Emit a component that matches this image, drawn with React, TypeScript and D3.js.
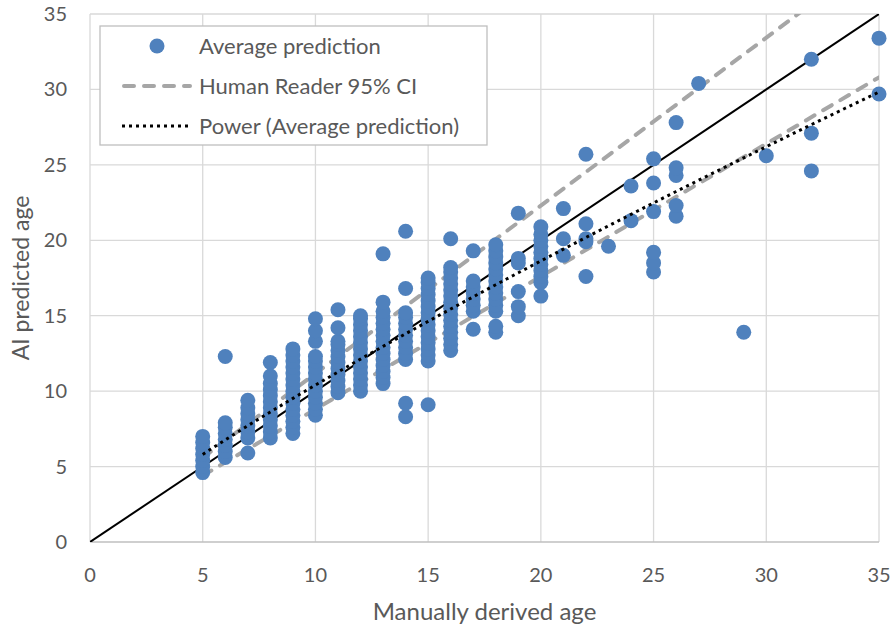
import React from "react";
import * as d3 from "d3";

// manually derived age (x) and the AI predictions at each age (y)
const ages = [5, 6, 7, 8, 9, 10, 11, 12, 13, 14, 15, 16, 17, 18, 19, 20, 21, 22, 23, 24, 25, 26, 27, 29, 30, 32, 35];
const predictions: number[][] = [
  [4.6, 5.0, 5.4, 5.8, 6.2, 6.6, 7.0],
  [5.6, 6.0, 6.4, 6.8, 7.2, 7.6, 7.9, 12.3],
  [5.9, 6.9, 7.3, 7.7, 8.1, 8.5, 8.9, 9.4],
  [6.9, 7.3, 7.7, 8.1, 8.5, 8.9, 9.3, 9.7, 10.1, 10.5, 11.0, 11.9],
  [7.2, 7.6, 8.0, 8.4, 8.8, 9.2, 9.6, 10.0, 10.4, 10.8, 11.2, 11.6, 12.0, 12.4, 12.8],
  [8.4, 8.8, 9.2, 9.6, 10.0, 10.4, 10.8, 11.2, 11.6, 12.0, 12.3, 13.3, 14.0, 14.8],
  [9.9, 10.3, 10.7, 11.1, 11.5, 11.9, 12.3, 12.7, 13.1, 13.3, 14.2, 15.4],
  [10.0, 10.4, 10.8, 11.2, 11.6, 12.0, 12.4, 12.8, 13.2, 13.6, 14.0, 14.4, 14.8, 15.0],
  [10.5, 10.9, 11.3, 11.7, 12.1, 12.5, 12.9, 13.3, 13.7, 14.1, 14.5, 14.9, 15.3, 15.9, 19.1],
  [8.3, 9.2, 12.1, 12.5, 12.9, 13.3, 13.7, 14.1, 14.5, 14.9, 15.2, 16.8, 20.6],
  [9.1, 12.0, 12.4, 12.8, 13.2, 13.6, 14.0, 14.4, 14.8, 15.2, 15.6, 16.0, 16.4, 16.8, 17.2, 17.5],
  [12.7, 13.1, 13.5, 13.9, 14.3, 14.7, 15.1, 15.5, 15.9, 16.3, 16.7, 17.1, 17.5, 17.9, 18.2, 20.1],
  [14.1, 15.3, 15.7, 16.1, 16.5, 16.9, 17.3, 19.3],
  [13.9, 14.3, 15.3, 15.7, 16.1, 16.5, 16.9, 17.3, 17.7, 18.1, 18.5, 18.9, 19.3, 19.7],
  [15.0, 15.6, 16.6, 18.5, 18.8, 21.8],
  [16.3, 17.2, 17.6, 18.0, 18.4, 18.8, 19.2, 19.6, 20.0, 20.4, 20.9],
  [19.0, 20.1, 22.1],
  [17.6, 19.9, 20.1, 21.1, 25.7],
  [19.6],
  [21.3, 23.6],
  [17.9, 18.5, 19.2, 21.9, 23.8, 25.4],
  [21.6, 22.3, 24.3, 24.8, 27.8],
  [30.4],
  [13.9],
  [25.6],
  [24.6, 27.1, 32.0],
  [29.7, 33.4],
];

const tickValues = [0, 5, 10, 15, 20, 25, 30, 35];

// human reader 95% CI bounds
const ciAges = [5, 35];
const ciUpper = [5.6, 39.0];
const ciLower = [4.4, 30.8];

// y = x reference
const identityLine = [0, 35];

// power trendline y = a * x^b
const trendA = 1.5;
const trendB = 0.841;
const trendAges = [5, 35];

const legendLabels = ["Average prediction", "Human Reader 95% CI", "Power (Average prediction)"];

const FONT = "Lato, 'Open Sans', sans-serif";
const TEXT = "#595959";
const BLUE = "#4f81bd";

export default function App() {
  const x = d3.scaleLinear([0, 35], [90, 879]);
  const y = d3.scaleLinear([0, 35], [542, 14]);

  const points = ages.flatMap((a, i) => predictions[i].map((p) => [a, p] as [number, number]));

  const line = d3
    .line<[number, number]>()
    .x((d) => x(d[0]))
    .y((d) => y(d[1]));

  const upper = line(ciAges.map((a, i) => [a, ciUpper[i]] as [number, number]));
  const lower = line(ciAges.map((a, i) => [a, ciLower[i]] as [number, number]));
  const ident = line(identityLine.map((v) => [v, v] as [number, number]));

  const trendPts = d3
    .range(trendAges[0], trendAges[1] + 0.001, 0.25)
    .map((a) => [a, trendA * Math.pow(a, trendB)] as [number, number]);
  const trend = line(trendPts);

  const [x0, x1] = x.range();
  const [y0, y1] = y.range();

  return (
    <svg width={894} height={628} style={{ position: "absolute", left: 0, top: 0, background: "#fff" }}>
      <defs>
        <clipPath id="plot">
          <rect x={x0} y={y1} width={x1 - x0} height={y0 - y1} />
        </clipPath>
      </defs>

      {/* grid */}
      {tickValues.map((t) => (
        <line key={"v" + t} x1={x(t)} x2={x(t)} y1={y1} y2={y0} stroke="#d9d9d9" strokeWidth={1.3} />
      ))}
      {tickValues.map((t) => (
        <line key={"h" + t} x1={x0} x2={x1} y1={y(t)} y2={y(t)} stroke={t === 0 ? "#bfbfbf" : "#d9d9d9"} strokeWidth={1.3} />
      ))}

      {/* tick labels */}
      {tickValues.map((t) => (
        <text key={"yt" + t} x={x0 - 23} y={y(t)} dy="0.35em" textAnchor="end" fontFamily={FONT} fontSize={20} fill={TEXT}>
          {t}
        </text>
      ))}
      {tickValues.map((t) => (
        <text key={"xt" + t} x={x(t)} y={575} dy="0.35em" textAnchor="middle" fontFamily={FONT} fontSize={20} fill={TEXT}>
          {t}
        </text>
      ))}

      <text x={(x0 + x1) / 2} y={612} dy="0.35em" textAnchor="middle" fontFamily={FONT} fontSize={24} fill={TEXT}>
        Manually derived age
      </text>
      <text
        transform={`translate(21,${(y0 + y1) / 2}) rotate(-90)`}
        dy="0.35em"
        textAnchor="middle"
        fontFamily={FONT}
        fontSize={23}
        fill={TEXT}
      >
        AI predicted age
      </text>

      <g clipPath="url(#plot)">
        <path d={upper ?? ""} fill="none" stroke="#a6a6a6" strokeWidth={4} strokeDasharray="10 10" strokeLinecap="round" />
        <path d={lower ?? ""} fill="none" stroke="#a6a6a6" strokeWidth={4} strokeDasharray="10 10" strokeLinecap="round" />
        <path d={ident ?? ""} fill="none" stroke="#000" strokeWidth={2} />
      </g>

      {points.map((d, i) => (
        <circle key={i} cx={x(d[0])} cy={y(d[1])} r={7.5} fill={BLUE} />
      ))}

      <path d={trend ?? ""} fill="none" stroke="#000" strokeWidth={3} strokeDasharray="3 4" />

      {/* legend */}
      <g>
        <rect x={100} y={26} width={387} height={119} fill="#fff" stroke="#bfbfbf" strokeWidth={1.3} />
        <circle cx={157} cy={46} r={7.5} fill={BLUE} />
        <line x1={124} x2={190} y1={86} y2={86} stroke="#a6a6a6" strokeWidth={4} strokeDasharray="10 10" strokeLinecap="round" />
        <line x1={122} x2={192} y1={126} y2={126} stroke="#000" strokeWidth={3} strokeDasharray="3 4" />
        {legendLabels.map((l, i) => (
          <text key={l} x={199} y={46 + i * 40} dy="0.35em" fontFamily={FONT} fontSize={22} fill={TEXT}>
            {l}
          </text>
        ))}
      </g>
    </svg>
  );
}
